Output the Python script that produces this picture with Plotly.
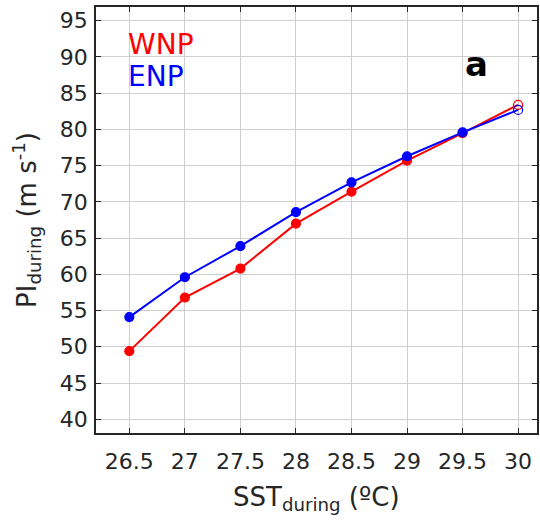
import plotly.graph_objects as go

sst = [26.5, 27.0, 27.5, 28.0, 28.5, 29.0, 29.5, 30.0]
pi_wnp = [49.4, 56.8, 60.8, 67.0, 71.4, 75.7, 79.5, 83.4]
pi_enp = [54.1, 59.6, 63.9, 68.6, 72.7, 76.3, 79.6, 82.7]
marker_symbols = ["circle"] * 7 + ["circle-open"]
x_ticks = [26.5, 27, 27.5, 28, 28.5, 29, 29.5, 30]
y_ticks = [40, 45, 50, 55, 60, 65, 70, 75, 80, 85, 90, 95]

FONT = "DejaVu Sans, Arial, sans-serif"
TXT = "#262626"

fig = go.Figure()
for name, vals, col in [("WNP", pi_wnp, "#ff0000"), ("ENP", pi_enp, "#0000ff")]:
    fig.add_trace(go.Scatter(
        x=sst, y=vals, mode="lines+markers", name=name,
        line=dict(color=col, width=2),
        marker=dict(color=col, size=9, symbol=marker_symbols,
                    line=dict(color=col, width=1.2)),
        showlegend=False,
    ))

fig.add_annotation(x=0.068, y=0.911, xref="paper", yref="paper", text="WNP",
                   showarrow=False, xanchor="left", yanchor="middle",
                   font=dict(family=FONT, size=28, color="#ff0000"))
fig.add_annotation(x=0.068, y=0.836, xref="paper", yref="paper", text="ENP",
                   showarrow=False, xanchor="left", yanchor="middle",
                   font=dict(family=FONT, size=28, color="#0000ff"))
fig.add_annotation(x=0.862, y=0.866, xref="paper", yref="paper", text="<b>a</b>",
                   showarrow=False, xanchor="center", yanchor="middle",
                   font=dict(family=FONT, size=34, color="#000000"))

# axis titles
fig.add_annotation(x=0.5, y=-0.153, xref="paper", yref="paper",
                   text="SST<sub>during</sub> (ºC)", showarrow=False,
                   xanchor="center", yanchor="middle",
                   font=dict(family=FONT, size=26, color=TXT))
fig.add_annotation(x=-0.158, y=0.501, xref="paper", yref="paper",
                   text="PI<sub>during</sub> (m s<sup>-1</sup>)", showarrow=False,
                   textangle=-90, xanchor="center", yanchor="middle",
                   font=dict(family=FONT, size=26, color=TXT))

axis_common = dict(
    showline=True, linecolor=TXT, linewidth=1.5, mirror="ticks",
    ticks="inside", ticklen=5, tickwidth=1, tickcolor=TXT,
    showgrid=True, gridcolor="#cfcfcf", gridwidth=1, zeroline=False,
    tickfont=dict(family=FONT, size=22, color=TXT),
    automargin=False,
)

fig.update_xaxes(range=[26.2, 30.17], tickvals=x_ticks,
                 ticktext=[f"{v:g}" for v in x_ticks],
                 ticklabelstandoff=8, **axis_common)
fig.update_yaxes(range=[38.1, 96.9], tickvals=y_ticks,
                 ticklabelstandoff=2, **axis_common)

fig.update_layout(
    width=540, height=522,
    margin=dict(l=96, r=3, t=7, b=89),
    plot_bgcolor="white", paper_bgcolor="white",
)

fig.write_html("out.html",
               config={"displayModeBar": False},
               post_script="document.body.style.margin='0';document.body.style.overflow='hidden';")
